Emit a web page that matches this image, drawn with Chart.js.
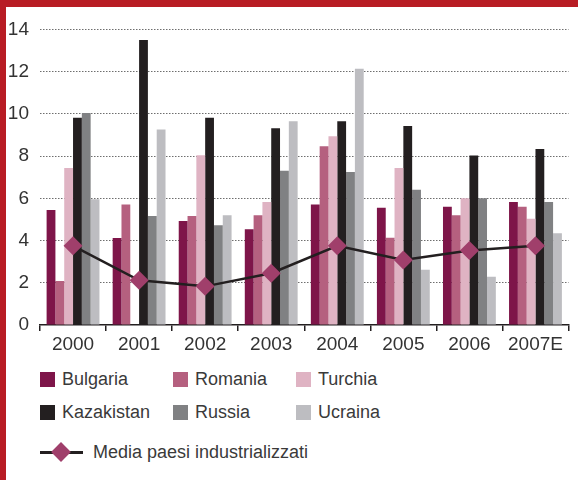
<!DOCTYPE html>
<html>
<head>
<meta charset="utf-8">
<script src="https://cdn.jsdelivr.net/npm/chart.js@4/dist/chart.umd.min.js"></script>
<style>
  html, body { margin: 0; padding: 0; }
  body { width: 578px; height: 480px; background: #b81c24; position: relative; overflow: hidden;
         font-family: "Liberation Sans", Arial, sans-serif; }
  #panel { position: absolute; left: 6px; top: 7px; width: 572px; height: 473px; background: #fff; }
  #wrap { position: absolute; left: 0; top: 0; width: 572px; height: 355px; }
  .lg { position: absolute; font-size: 18px; color: #3a3a3a; line-height: 20px; white-space: nowrap; }
  .sw { position: absolute; width: 15px; height: 15px; }
</style>
</head>
<body>
<div id="panel">
  <div id="wrap"><canvas id="results"></canvas></div>
  <div id="legend"></div>
</div>
<script>
var years = ["2000", "2001", "2002", "2003", "2004", "2005", "2006", "2007E"];
var countries = ["Bulgaria", "Romania", "Turchia", "Kazakistan", "Russia", "Ucraina"];
var bulgaria   = [5.45, 4.12, 4.93, 4.53, 5.71, 5.55, 5.6, 5.83];
var romania    = [2.08, 5.71, 5.16, 5.2, 8.47, 4.13, 5.2, 5.6];
var turchia    = [7.44, null, 8.04, 5.83, 8.94, 7.44, 6.0, 5.03];
var kazakistan = [9.82, 13.5, 9.82, 9.32, 9.65, 9.43, 8.03, 8.33];
var russia     = [10.04, 5.16, 4.73, 7.3, 7.25, 6.4, 6.0, 5.83];
var ucraina    = [5.96, 9.26, 5.2, 9.65, 12.14, 2.62, 2.29, 4.34];
var mediaLabel = "Media paesi industrializzati";
var media      = [3.75, 2.12, 1.83, 2.45, 3.75, 3.08, 3.53, 3.75];
var yTicks     = [0, 2, 4, 6, 8, 10, 12, 14];

var colors = ["#7e1549", "#b5607f", "#dfb3c3", "#231f20", "#808183", "#bdbdc1"];
var diamondColor = "#a03f6b";

var values = [bulgaria, romania, turchia, kazakistan, russia, ucraina];
var datasets = [{
  type: "line",
  label: mediaLabel,
  data: media,
  borderColor: "#231f20",
  borderWidth: 2.5,
  pointStyle: "rectRot",
  pointRadius: 9.5,
  pointBackgroundColor: diamondColor,
  pointBorderWidth: 0,
  tension: 0,
  order: 0
}];
countries.forEach(function (name, i) {
  datasets.push({
    type: "bar",
    label: name,
    data: values[i],
    backgroundColor: colors[i],
    categoryPercentage: 0.8,
    barPercentage: 1.0,
    order: 1
  });
});

var ctx = document.getElementById("results").getContext("2d");
new Chart(ctx, {
  data: { labels: years, datasets: datasets },
  options: {
    responsive: true,
    maintainAspectRatio: false,
    animation: false,
    layout: { padding: { top: 22, right: 2, left: 0, bottom: 0 } },
    plugins: { legend: { display: false }, tooltip: { enabled: false } },
    scales: {
      x: {
        afterFit: function (s) { s.height = 37; },
        border: { display: true, color: "#231f20", width: 1.5 },
        grid: { offset: true, drawOnChartArea: false, drawTicks: true, tickLength: 6, color: "#231f20", lineWidth: 1.5 },
        ticks: { color: "#333", padding: 2, font: { family: "Liberation Sans", size: 19 } }
      },
      y: {
        min: 0, max: 14,
        afterFit: function (s) { s.width = 34; },
        afterBuildTicks: function (s) { s.ticks = yTicks.map(function (v) { return { value: v }; }); },
        border: { display: false, dash: [1.5, 1.5] },  // dash = dotted grid lines in v4
        grid: {
          drawTicks: false,
          color: function (c) { return c.tick && c.tick.value === 0 ? "rgba(0,0,0,0)" : "#6e6e6e"; },
          lineWidth: 1
        },
        ticks: { color: "#333", padding: 11, font: { family: "Liberation Sans", size: 19 } }
      }
    }
  }
});

// legend
var legend = document.getElementById("legend");
var colX = [34, 167, 290];
var rowY = [365, 398];
countries.forEach(function (name, i) {
  var col = i % 3, row = Math.floor(i / 3);
  var sw = document.createElement("div");
  sw.className = "sw";
  sw.style.left = colX[col] + "px";
  sw.style.top = rowY[row] + "px";
  sw.style.background = colors[i];
  legend.appendChild(sw);
  var t = document.createElement("div");
  t.className = "lg";
  t.textContent = name;
  t.style.left = (colX[col] + 22) + "px";
  t.style.top = (rowY[row] - 3) + "px";
  legend.appendChild(t);
});
var ln = document.createElement("div");
ln.style.cssText = "position:absolute;left:34px;top:444px;width:43px;height:2.5px;background:#231f20;";
legend.appendChild(ln);
var dm = document.createElement("div");
dm.style.cssText = "position:absolute;left:48px;top:438px;width:14px;height:14px;background:" + diamondColor + ";transform:rotate(45deg);";
legend.appendChild(dm);
var mt = document.createElement("div");
mt.className = "lg";
mt.textContent = mediaLabel;
mt.style.left = "87px";
mt.style.top = "435px";
legend.appendChild(mt);
</script>
</body>
</html>
